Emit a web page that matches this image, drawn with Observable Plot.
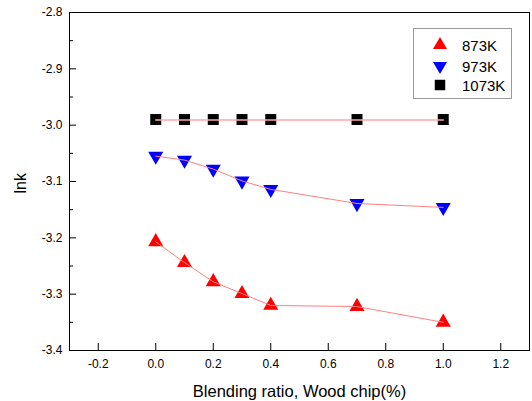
<!DOCTYPE html>
<html>
<head>
<meta charset="utf-8">
<script src="https://cdn.jsdelivr.net/npm/d3@7"></script>
<script src="https://cdn.jsdelivr.net/npm/@observablehq/plot@0.6"></script>
<style>
  body { margin: 0; background: #fff; }
  #wrap { position: relative; width: 532px; height: 401px; font-family: "Liberation Sans", Arial, sans-serif; }
  #legend { position: absolute; left: 413px; top: 28px; width: 99px; height: 71px; border: 1px solid #999; background: #fff; box-sizing: border-box; }
  #legend svg { position: absolute; }
  #legend span { position: absolute; left: 48px; font-size: 15px; color: #000; line-height: 18px; }
</style>
</head>
<body>
<div id="wrap"></div>
<script>
const ratio = [0, 0.1, 0.2, 0.3, 0.4, 0.7, 1.0];
const k873 = [-3.207, -3.244, -3.278, -3.299, -3.320, -3.322, -3.350];
const k973 = [-3.055, -3.062, -3.078, -3.099, -3.114, -3.139, -3.146];
const k1073 = [-2.990, -2.990, -2.990, -2.990, -2.990, -2.990, -2.990];
const seriesNames = ["873K", "973K", "1073K"];
const xTicks = [-0.2, 0, 0.2, 0.4, 0.6, 0.8, 1.0, 1.2];
const yTicks = [-2.8, -2.9, -3.0, -3.1, -3.2, -3.3, -3.4];
const yMinor = [-2.85, -2.95, -3.05, -3.15, -3.25, -3.35];

const rows = (vals) => ratio.map((r, i) => ({x: r, y: vals[i]}));
const d873 = rows(k873), d973 = rows(k973), d1073 = rows(k1073);
const lineColor = "#ff8080";
const fmt = d => d.toFixed(1);

const chart = Plot.plot({
  width: 532,
  height: 401,
  marginLeft: 69,
  marginRight: 3,
  marginTop: 12,
  marginBottom: 51,
  style: {fontFamily: "'Liberation Sans', Arial, sans-serif", background: "#fff", color: "#000"},
  x: {domain: [-0.3, 1.3]},
  y: {domain: [-3.4, -2.8]},
  marks: [
    Plot.dot(d1073, {x: "x", y: "y", symbol: "square", r: 6.2, fill: "#000", stroke: "none"}),
    Plot.dot(d973, {x: "x", y: "y", symbol: "triangle", r: 5.6, rotate: 180, fill: "#0000ff", stroke: "none"}),
    Plot.dot(d873, {x: "x", y: "y", symbol: "triangle", r: 5.6, fill: "#ff0000", stroke: "none"}),
    Plot.line(d1073, {x: "x", y: "y", stroke: "#ffa8a8", strokeWidth: 1.5, dy: 0.5}),
    Plot.line(d973, {x: "x", y: "y", stroke: lineColor, strokeWidth: 1}),
    Plot.line(d873, {x: "x", y: "y", stroke: lineColor, strokeWidth: 1}),
    Plot.axisX({ticks: xTicks, tickSize: -7, tickPadding: 16, tickFormat: fmt, fontSize: 12, label: null}),
    Plot.axisY({ticks: yTicks, tickSize: -7, tickPadding: 14, tickFormat: fmt, fontSize: 12, label: null}),
    Plot.axisY({ticks: yMinor, tickSize: -4, tickFormat: () => "", label: null}),
    Plot.frame({stroke: "#000", strokeWidth: 1}),
    Plot.text(["Blending ratio, Wood chip(%)"], {frameAnchor: "bottom", dy: 46, fontSize: 16.5}),
    Plot.text(["lnk"], {frameAnchor: "left", dx: -49, dy: 12, rotate: -90, fontSize: 16})
  ]
});
document.getElementById("wrap").appendChild(chart);

// Legend
const legend = document.createElement("div");
legend.id = "legend";
const syms = [
  {sym: d3.symbolTriangle, size: 85, rot: 0, color: "#ff0000", cy: 17},
  {sym: d3.symbolTriangle, size: 85, rot: 180, color: "#0000ff", cy: 38},
  {sym: d3.symbolSquare, size: 110, rot: 0, color: "#000", cy: 56.5}
];
seriesNames.forEach((name, i) => {
  const s = syms[i];
  const svg = d3.create("svg").attr("width", 20).attr("height", 20)
    .style("left", "16px").style("top", (s.cy - 10 - 1) + "px");
  svg.append("path").attr("d", d3.symbol(s.sym, s.size)())
    .attr("transform", `translate(10,10) rotate(${s.rot})`).attr("fill", s.color);
  legend.appendChild(svg.node());
  const span = document.createElement("span");
  span.textContent = name;
  span.style.top = (s.cy - 9) + "px";
  legend.appendChild(span);
});
document.getElementById("wrap").appendChild(legend);
</script>
</body>
</html>
